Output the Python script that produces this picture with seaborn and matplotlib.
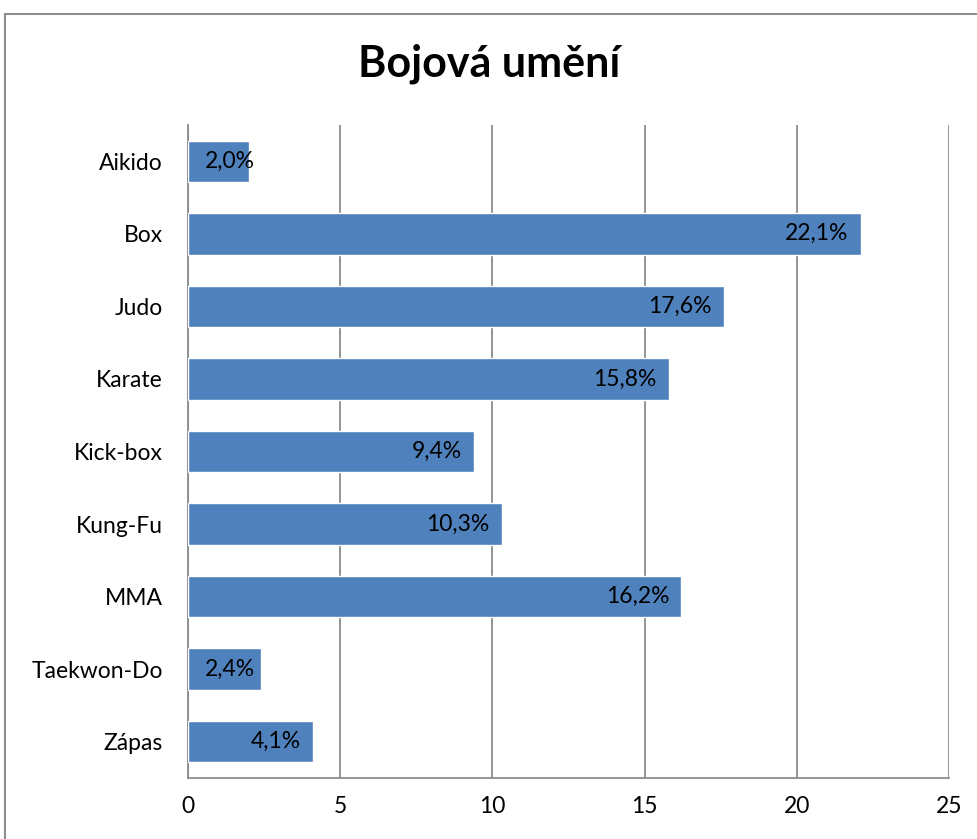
import matplotlib
matplotlib.use("Agg")
import matplotlib.pyplot as plt
import seaborn as sns
from matplotlib.patches import Rectangle

categories = ["Aikido", "Box", "Judo", "Karate", "Kick-box", "Kung-Fu", "MMA", "Taekwon-Do", "Zápas"]
values = [2.0, 22.1, 17.6, 15.8, 9.4, 10.3, 16.2, 2.4, 4.1]
labels = ["2,0%", "22,1%", "17,6%", "15,8%", "9,4%", "10,3%", "16,2%", "2,4%", "4,1%"]
xticks = [0, 5, 10, 15, 20, 25]
title = "Bojová umění"

sns.set_theme(style="white")
plt.rcParams['font.family'] = ['Lato', 'DejaVu Sans']
plt.rcParams['text.color'] = 'black'

fig = plt.figure(figsize=(9.78, 8.39), dpi=100)
ax = fig.add_axes([188/978, 61/839, (949-188)/978, (778-125)/839])

sns.barplot(x=values, y=categories, color="#4F81BD", saturation=1, width=0.57,
            orient="h", ax=ax, zorder=3)

ax.set_xlim(0, 25)
ax.set_ylim(8.5, -0.5)
ax.set_xticks(xticks)
ax.set_xticklabels([str(t) for t in xticks])
ax.xaxis.grid(True, color="#8c8c8c", linewidth=1.3, zorder=0)
ax.set_axisbelow(True)
for s in ["top", "right"]:
    ax.spines[s].set_visible(False)
for s in ["left", "bottom"]:
    ax.spines[s].set_color("#8c8c8c")
    ax.spines[s].set_linewidth(1.3)
ax.tick_params(axis="x", length=0, pad=13, labelsize=16.5, colors="black")
ax.tick_params(axis="y", length=0, pad=18, labelsize=16.5, colors="black")
ax.set_xlabel("")
ax.set_ylabel("")

fig.canvas.draw()
renderer = fig.canvas.get_renderer()
x0_px = ax.transData.transform((0, 0))[0]
for i, (v, lab) in enumerate(zip(values, labels)):
    t = ax.annotate(lab, xy=(v, i), xytext=(-12, 0), textcoords="offset pixels",
                    ha="right", va="center", fontsize=16.5, color="black", zorder=5)
    bb = t.get_window_extent(renderer)
    if bb.x0 < x0_px + 17:
        t.remove()
        ax.annotate(lab, xy=(0, i), xytext=(17, 0), textcoords="offset pixels",
                    ha="left", va="center", fontsize=16.5, color="black", zorder=5)

fig.text(0.5, (839-64)/839, title, ha="center", va="center", fontsize=31,
         fontweight="bold", color="black")

fig.patches.append(Rectangle((5/978, -0.1), 1.2, (839-14)/839 + 0.1, transform=fig.transFigure,
                             fill=False, edgecolor="#8c8c8c", linewidth=1.5))

fig.savefig("out.png", dpi=100)
